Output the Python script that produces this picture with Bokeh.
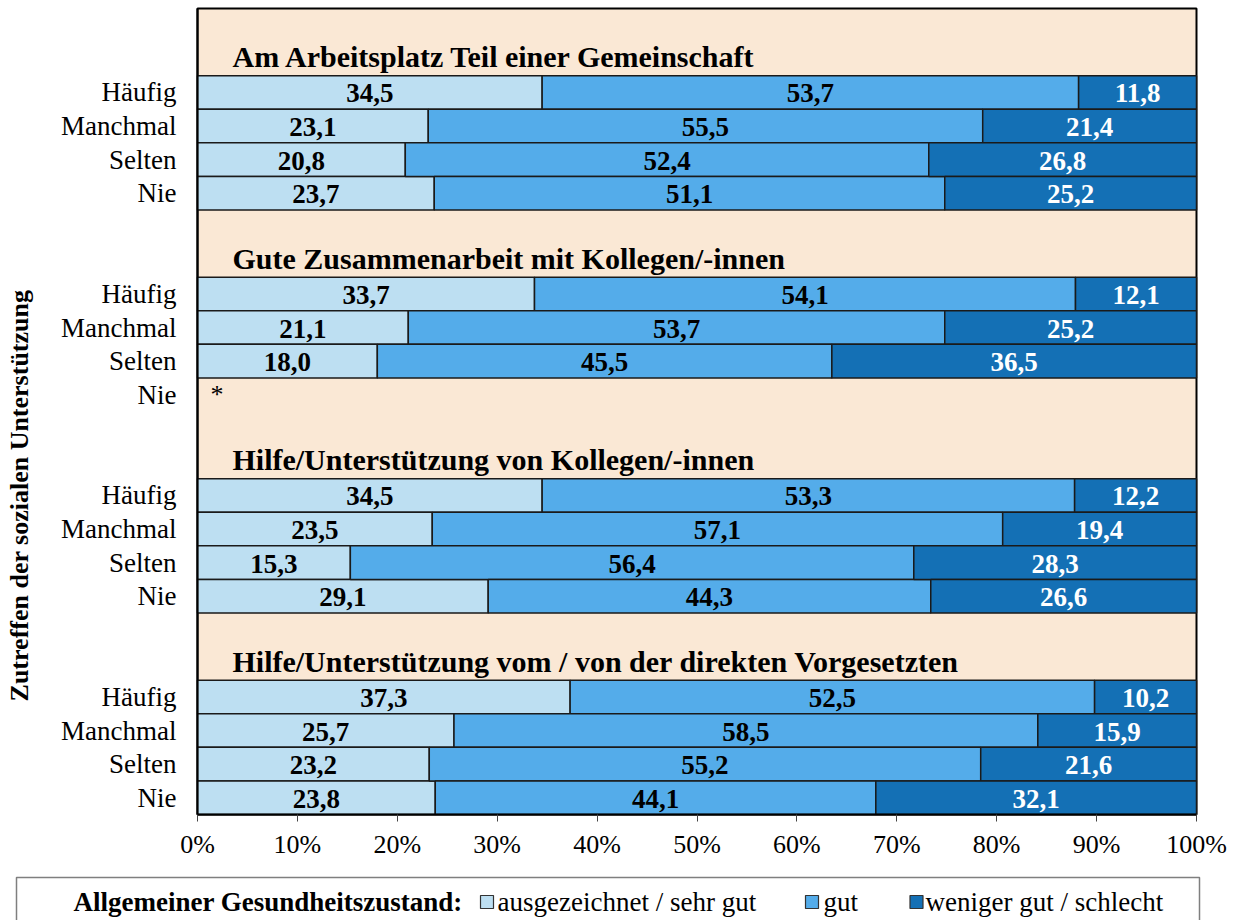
from bokeh.plotting import figure
from bokeh.models import Range1d, FixedTicker, ColumnDataSource
from bokeh.embed import file_html
from bokeh.resources import INLINE
from bokeh.core.properties import value
import math

group_titles = [
    "Am Arbeitsplatz Teil einer Gemeinschaft",
    "Gute Zusammenarbeit mit Kollegen/-innen",
    "Hilfe/Unterstützung von Kollegen/-innen",
    "Hilfe/Unterstützung vom / von der direkten Vorgesetzten",
]
row_labels = ["Häufig", "Manchmal", "Selten", "Nie"]

# ausgezeichnet / sehr gut
excellent = [34.5, 23.1, 20.8, 23.7,
             33.7, 21.1, 18.0, None,
             34.5, 23.5, 15.3, 29.1,
             37.3, 25.7, 23.2, 23.8]
# gut
good = [53.7, 55.5, 52.4, 51.1,
        54.1, 53.7, 45.5, None,
        53.3, 57.1, 56.4, 44.3,
        52.5, 58.5, 55.2, 44.1]
# weniger gut / schlecht
poor = [11.8, 21.4, 26.8, 25.2,
        12.1, 25.2, 36.5, None,
        12.2, 19.4, 28.3, 26.6,
        10.2, 15.9, 21.6, 32.1]

series_names = ["ausgezeichnet / sehr gut", "gut", "weniger gut / schlecht"]
series_colors = ["#BDDFF2", "#54ACEA", "#1470B5"]
label_colors = ["black", "black", "white"]
legend_title = "Allgemeiner Gesundheitszustand:"
y_title = "Zutreffen der sozialen Unterstützung"
x_ticks = [0, 10, 20, 30, 40, 50, 60, 70, 80, 90, 100]

FONT = value("Liberation Serif")

W, H = 1236, 920
# geometry of the plotting area on the canvas (pixels)
AX_L, AX_R, AX_T, AX_B = 197, 1196, 8, 814
N_HALF = 48  # 24 rows, in half-row units

def px2x(px):
    return (px - AX_L) * 100.0 / (AX_R - AX_L)

def py2y(py):
    return (py - AX_T) * N_HALF / (AX_B - AX_T)

def row_y(g, i):
    return 12 * g + 2 * i + 5

def title_y(g):
    return 12 * g + 3

p = figure(width=W, height=H,
           x_range=Range1d(px2x(0), px2x(W)), y_range=Range1d(py2y(H), py2y(0)),
           output_backend="svg", toolbar_location=None,
           min_border=0, min_border_left=0, min_border_right=0,
           min_border_top=0, min_border_bottom=0)
p.background_fill_color = "white"
p.border_fill_color = "white"
p.outline_line_color = None
p.xgrid.visible = False
p.ygrid.visible = False

# plot area background
p.quad(left=[0], right=[100], top=[0], bottom=[N_HALF], fill_color="#FAE8D5",
       line_color="black", line_width=2)

series = [excellent, good, poor]
for s_idx, vals in enumerate(series):
    ys, lefts, rights, cx, txt = [], [], [], [], []
    for k, v in enumerate(vals):
        if v is None:
            continue
        g, i = divmod(k, 4)
        total = sum(series[j][k] for j in range(len(series)))
        scale = 100.0 / total  # 100 % stacked
        left = sum(series[j][k] for j in range(s_idx)) * scale
        w = v * scale
        ys.append(row_y(g, i))
        lefts.append(left)
        rights.append(left + w)
        cx.append(left + w / 2)
        txt.append(f"{v:.1f}".replace(".", ","))
    src = ColumnDataSource(dict(y=ys, left=lefts, right=rights, cx=cx, txt=txt))
    p.hbar(y="y", left="left", right="right", height=2, source=src,
           fill_color=series_colors[s_idx], line_color="#1a1a1a", line_width=1.5)
    p.text(x="cx", y="y", text="txt", source=src, text_font=FONT, text_font_style="bold",
           text_font_size="27px", text_color=label_colors[s_idx],
           text_align="center", text_baseline="middle", y_offset=1)

# group titles
tsrc = ColumnDataSource(dict(x=[3.5] * len(group_titles),
                             y=[title_y(g) for g in range(len(group_titles))],
                             t=group_titles))
p.text(x="x", y="y", text="t", source=tsrc, text_font=FONT, text_font_style="bold",
       text_font_size="30px", text_color="black", text_align="left",
       text_baseline="middle", y_offset=-2)

# missing-value marker
for k, v in enumerate(excellent):
    if v is None:
        g, i = divmod(k, 4)
        p.text(x=[1.3], y=[row_y(g, i)], text=["*"], text_font=FONT,
               text_font_size="26px", text_color="black", text_align="left",
               text_baseline="alphabetic", y_offset=0)

# axes
p.xaxis.fixed_location = N_HALF
p.xaxis.bounds = (0, 100)
p.xaxis.ticker = FixedTicker(ticks=x_ticks)
p.xaxis.major_label_overrides = {t: f"{t}%" for t in x_ticks}
p.xaxis.minor_tick_line_color = None
p.xaxis.major_tick_out = 7
p.xaxis.major_tick_in = 0
p.xaxis.major_tick_line_color = "#444444"
p.xaxis.major_tick_line_width = 1
p.xaxis.axis_line_color = "black"
p.xaxis.axis_line_width = 2
p.xaxis.major_label_standoff = 8
p.xaxis.major_label_text_font = "Liberation Serif"
p.xaxis.major_label_text_font_size = "26px"
p.xaxis.major_label_text_color = "black"

yt = [row_y(g, i) for g in range(4) for i in range(4)]
p.yaxis.fixed_location = 0
p.yaxis.bounds = (0, N_HALF)
p.yaxis.ticker = FixedTicker(ticks=yt)
p.yaxis.major_label_overrides = {row_y(g, i): row_labels[i] for g in range(4) for i in range(4)}
p.yaxis.minor_tick_line_color = None
p.yaxis.major_tick_out = 0
p.yaxis.major_tick_in = 0
p.yaxis.axis_line_color = "black"
p.yaxis.axis_line_width = 2
p.yaxis.major_label_standoff = 21
p.yaxis.major_label_text_font = "Liberation Serif"
p.yaxis.major_label_text_font_size = "27px"
p.yaxis.major_label_text_color = "black"

# y-axis title
p.text(x=[px2x(19)], y=[py2y(495)], text=[y_title], angle=math.pi / 2,
       text_font=FONT, text_font_style="bold", text_font_size="26px",
       text_color="black", text_align="center", text_baseline="middle")

# legend box
p.line(x=[px2x(16), px2x(16), px2x(1199), px2x(1199)],
       y=[py2y(930), py2y(877), py2y(877), py2y(930)],
       line_color="#7f7f7f", line_width=1.5)
p.text(x=[px2x(73)], y=[py2y(901)], text=[legend_title], text_font=FONT,
       text_font_style="bold", text_font_size="27px", text_color="black",
       text_align="left", text_baseline="middle")
sq_px = [486.5, 811.5, 916]
txt_px = [497, 823, 925]
p.scatter(x=[px2x(v) for v in sq_px], y=[py2y(901.5)] * 3, marker="square", size=13,
          fill_color=series_colors, line_color="#333333", line_width=1.2)
p.text(x=[px2x(v) for v in txt_px], y=[py2y(901)] * 3, text=series_names, text_font=FONT,
       text_font_size="27px", text_color="black", text_align="left",
       text_baseline="middle")

open("out.html", "w").write(file_html(p, INLINE))
